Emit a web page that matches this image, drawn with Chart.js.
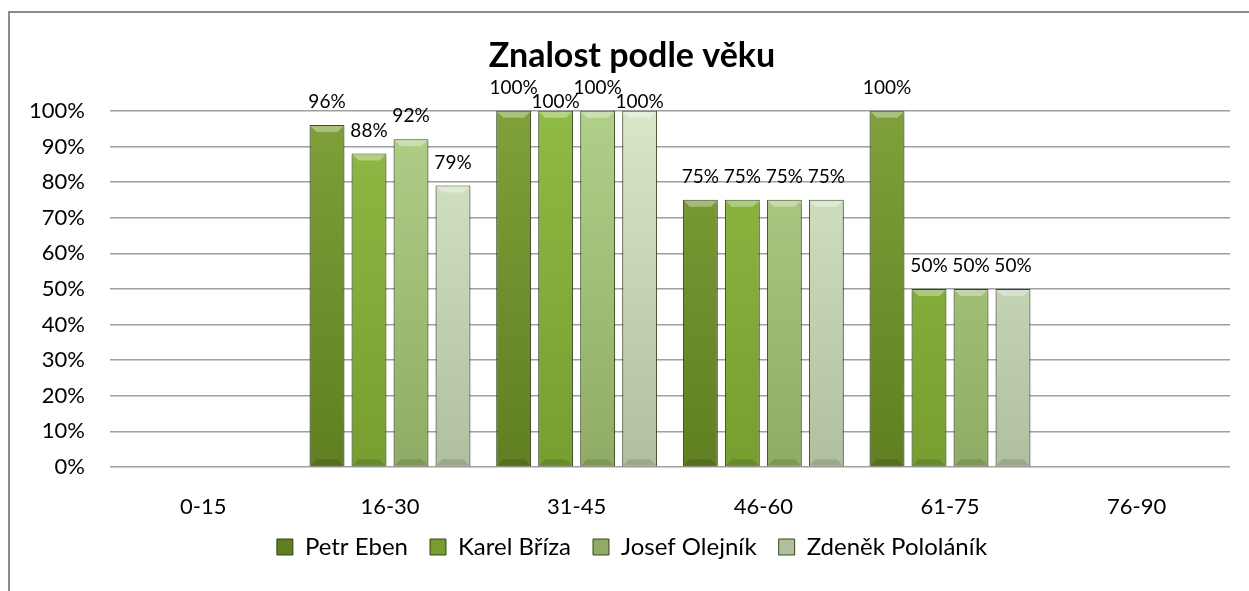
<!DOCTYPE html>
<html>
<head>
<meta charset="utf-8">
<script src="https://cdn.jsdelivr.net/npm/chart.js@4/dist/chart.umd.min.js"></script>
<style>
  html, body { margin: 0; padding: 0; background: #fff; }
  #wrap { position: relative; width: 1249px; height: 591px; overflow: hidden; }
  #frame { position: absolute; left: 8px; top: 11px; width: 1260px; height: 600px;
           border-left: 2px solid #8c8c8c; border-top: 2px solid #8c8c8c; pointer-events: none; }
</style>
</head>
<body>
<div id="wrap">
  <canvas id="chart" width="1249" height="591"></canvas>
  <div id="frame"></div>
</div>
<script>
// data
const ageGroups = ["0-15", "16-30", "31-45", "46-60", "61-75", "76-90"];
const seriesNames = ["Petr Eben", "Karel Bříza", "Josef Olejník", "Zdeněk Pololáník"];
const petrEben   = [null, 96, 100, 75, 100, null];
const karelBriza = [null, 88, 100, 75, 50, null];
const josefOlejnik = [null, 92, 100, 75, 50, null];
const zdenekPololanik = [null, 79, 100, 75, 50, null];
const yTicks = [0, 10, 20, 30, 40, 50, 60, 70, 80, 90, 100];

// top / bottom shades per series
const shades = [
  ["#7fa03a", "#5f7f22"],
  ["#8fba44", "#779e30"],
  ["#b0cf88", "#90ac64"],
  ["#d8e7c7", "#b0bf9e"]
];

function barFill(i){
  return function(c){
    const a = c.chart.chartArea;
    if(!a) return shades[i][1];
    const g = c.chart.ctx.createLinearGradient(0, a.top, 0, a.bottom);
    g.addColorStop(0, shades[i][0]);
    g.addColorStop(1, shades[i][1]);
    return g;
  };
}

const seriesValues = [petrEben, karelBriza, josefOlejnik, zdenekPololanik];
const datasets = seriesNames.map((name, i) => ({
  label: name,
  data: seriesValues[i],
  backgroundColor: barFill(i),
  borderColor: "rgba(40,55,12,0.9)",
  borderWidth: 1,
  categoryPercentage: 0.9,
  barPercentage: 0.83
}));

// title and legend sit centred over the frame, not the whole canvas;
// x labels may hang a little below their box
const shiftPlugin = {
  id: "shift",
  afterLayout(chart){
    if(chart.titleBlock) chart.titleBlock.left += 34;
    if(chart.legend) chart.legend.left += 34;
    chart.scales.x.bottom += 10;
  }
};

// bevel + shadow + value labels
const bevelPlugin = {
  id: "bevel",
  beforeDatasetsDraw(chart){
    const ctx = chart.ctx;
    ctx.save();
    ctx.shadowColor = "rgba(0,0,0,0.35)";
    ctx.shadowBlur = 4;
    ctx.shadowOffsetY = 3;
  },
  afterDatasetsDraw(chart){
    const ctx = chart.ctx;
    ctx.restore();
    ctx.save();
    chart.data.datasets.forEach((ds, di) => {
      chart.getDatasetMeta(di).data.forEach((el, j) => {
        if(ds.data[j] == null) return;
        const w = el.width, l = el.x - w/2, r = el.x + w/2, t = el.y, b = 7;
        ctx.fillStyle = "rgba(255,255,255,0.35)";
        ctx.beginPath();
        ctx.moveTo(l + 1, t + 1); ctx.lineTo(r - 1, t + 1);
        ctx.lineTo(r - b, t + b); ctx.lineTo(l + b, t + b);
        ctx.closePath(); ctx.fill();
        ctx.fillStyle = "rgba(0,0,0,0.12)";
        ctx.beginPath();
        ctx.moveTo(l + 1, el.base - 1); ctx.lineTo(r - 1, el.base - 1);
        ctx.lineTo(r - b, el.base - b); ctx.lineTo(l + b, el.base - b);
        ctx.closePath(); ctx.fill();
      });
    });
    // labels, staggered where they would collide
    ctx.font = "19px Lato";
    ctx.fillStyle = "#000";
    ctx.textAlign = "center";
    ctx.textBaseline = "middle";
    ageGroups.forEach((_, j) => {
      let prev = null;
      chart.data.datasets.forEach((ds, di) => {
        const v = ds.data[j];
        if(v == null) return;
        const el = chart.getDatasetMeta(di).data[j];
        const txt = v + "%";
        const tw = ctx.measureText(txt).width;
        let y = el.y - 23;
        if(prev && Math.abs(prev.y - y) < 14 && el.x - tw/2 < prev.right) y = el.y - 9;
        ctx.fillText(txt, el.x, y);
        prev = { y: y, right: el.x + tw/2 };
      });
    });
    ctx.restore();
  }
};

new Chart(document.getElementById("chart"), {
  type: "bar",
  data: { labels: ageGroups, datasets: datasets },
  plugins: [shiftPlugin, bevelPlugin],
  options: {
    responsive: false,
    animation: false,
    layout: { padding: { left: 0, right: 19, top: 0, bottom: 22 } },
    plugins: {
      title: {
        display: true,
        text: "Znalost podle věku",
        color: "#000",
        font: { family: "Lato", size: 34, weight: "bold" },
        padding: { top: 36, bottom: 34 }
      },
      legend: {
        position: "bottom",
        labels: {
          color: "#000",
          font: { family: "Lato", size: 24 },
          boxWidth: 16,
          boxHeight: 16,
          padding: 22
        }
      },
      tooltip: { enabled: false }
    },
    scales: {
      x: {
        grid: { display: false, drawTicks: false },
        border: { display: false },
        ticks: { color: "#000", font: { family: "Lato", size: 22 }, padding: 27 },
        afterFit(s){ s.height = 46; }
      },
      y: {
        min: 0, max: 100,
        afterBuildTicks(s){ s.ticks = yTicks.map(v => ({ value: v })); },
        grid: { color: "#a0a0a0", lineWidth: 1.5, drawTicks: false },
        border: { display: false },
        ticks: { color: "#000", font: { family: "Lato", size: 22 }, padding: 25,
                 callback: v => v + "%" },
        afterFit(s){ s.width = 110; }
      }
    }
  }
});
</script>
</body>
</html>
